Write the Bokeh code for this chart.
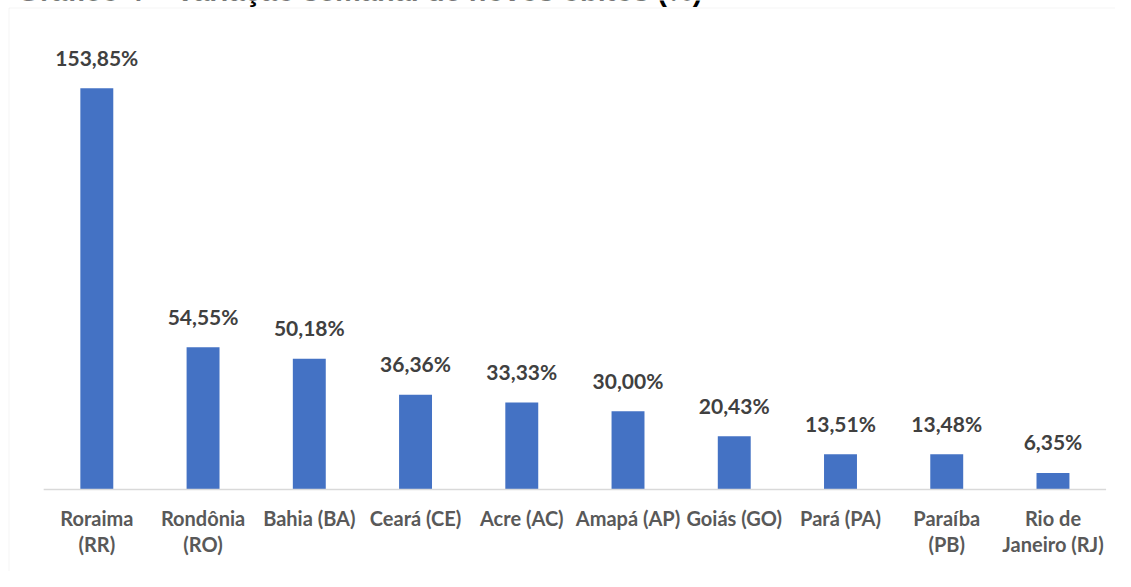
from bokeh.plotting import figure
from bokeh.models import Range1d, BoxAnnotation
from bokeh.core.properties import value
from bokeh.embed import file_html
from bokeh.resources import INLINE

title_text = "Gráfico 4 – Variação semanal de novos óbitos (%)"
categories = ["Roraima (RR)", "Rondônia (RO)", "Bahia (BA)", "Ceará (CE)", "Acre (AC)",
              "Amapá (AP)", "Goiás (GO)", "Pará (PA)", "Paraíba (PB)", "Rio de Janeiro (RJ)"]
values = [153.85, 54.55, 50.18, 36.36, 33.33, 30.00, 20.43, 13.51, 13.48, 6.35]
tick_labels = ["Roraima\n(RR)", "Rondônia\n(RO)", "Bahia (BA)", "Ceará (CE)", "Acre (AC)",
               "Amapá (AP)", "Goiás (GO)", "Pará (PA)", "Paraíba\n(PB)", "Rio de\nJaneiro (RJ)"]

n = len(categories)
xpos = [i + 0.5 for i in range(n)]          # category slots on the x scale
value_labels = [f"{v:.2f}".replace(".", ",") + "%" for v in values]
line1 = [t.split("\n")[0] for t in tick_labels]
line2 = [t.split("\n")[1] if "\n" in t else "" for t in tick_labels]

x_start, x_end = -0.4066, 10.0885
y_start, y_end = -31.44, 187.5

p = figure(width=1115, height=571,
           x_range=Range1d(x_start, x_end), y_range=Range1d(y_start, y_end),
           x_axis_location=None, y_axis_location=None,
           output_backend="svg", toolbar_location=None,
           min_border_left=0, min_border_right=0, min_border_top=0, min_border_bottom=0)
p.xgrid.visible = False
p.ygrid.visible = False
p.outline_line_color = None
p.background_fill_color = "white"
p.border_fill_color = "white"

# chart border (only its left and top edges fall inside the picture)
p.add_layout(BoxAnnotation(left=8.5, top=7.5, right=5000, bottom=5000,
                           left_units="canvas", right_units="canvas",
                           top_units="canvas", bottom_units="canvas",
                           fill_alpha=0, line_color="#d9d9d9", line_width=1))

# title, mostly cut off above the picture
p.text(x=[x_start], y=[y_end], text=[title_text], x_offset=17, y_offset=-9.5,
       text_align="left", text_baseline="alphabetic",
       text_font=value("Liberation Sans"), text_font_style="bold",
       text_font_size="29px", text_color="black")

p.vbar(x=xpos, top=values, width=0.31, color="#4472C4", line_color=None)

# category axis line
p.segment(x0=[0], x1=[n], y0=[0], y1=[0], line_color="#d9d9d9", line_width=1.5)

p.text(x=xpos, y=values, text=value_labels, y_offset=-31,
       text_align="center", text_baseline="alphabetic",
       text_font=value("Lato"), text_font_style="bold", text_font_size="21px",
       text_color="#404040")

p.text(x=xpos, y=[0] * n, text=line1, y_offset=28,
       text_align="center", text_baseline="alphabetic",
       text_font=value("Lato"), text_font_style="bold", text_font_size="20px",
       text_color="#595959")
p.text(x=xpos, y=[0] * n, text=line2, y_offset=54,
       text_align="center", text_baseline="alphabetic",
       text_font=value("Lato"), text_font_style="bold", text_font_size="20px",
       text_color="#595959")

open("out.html", "w").write(file_html(p, INLINE))
